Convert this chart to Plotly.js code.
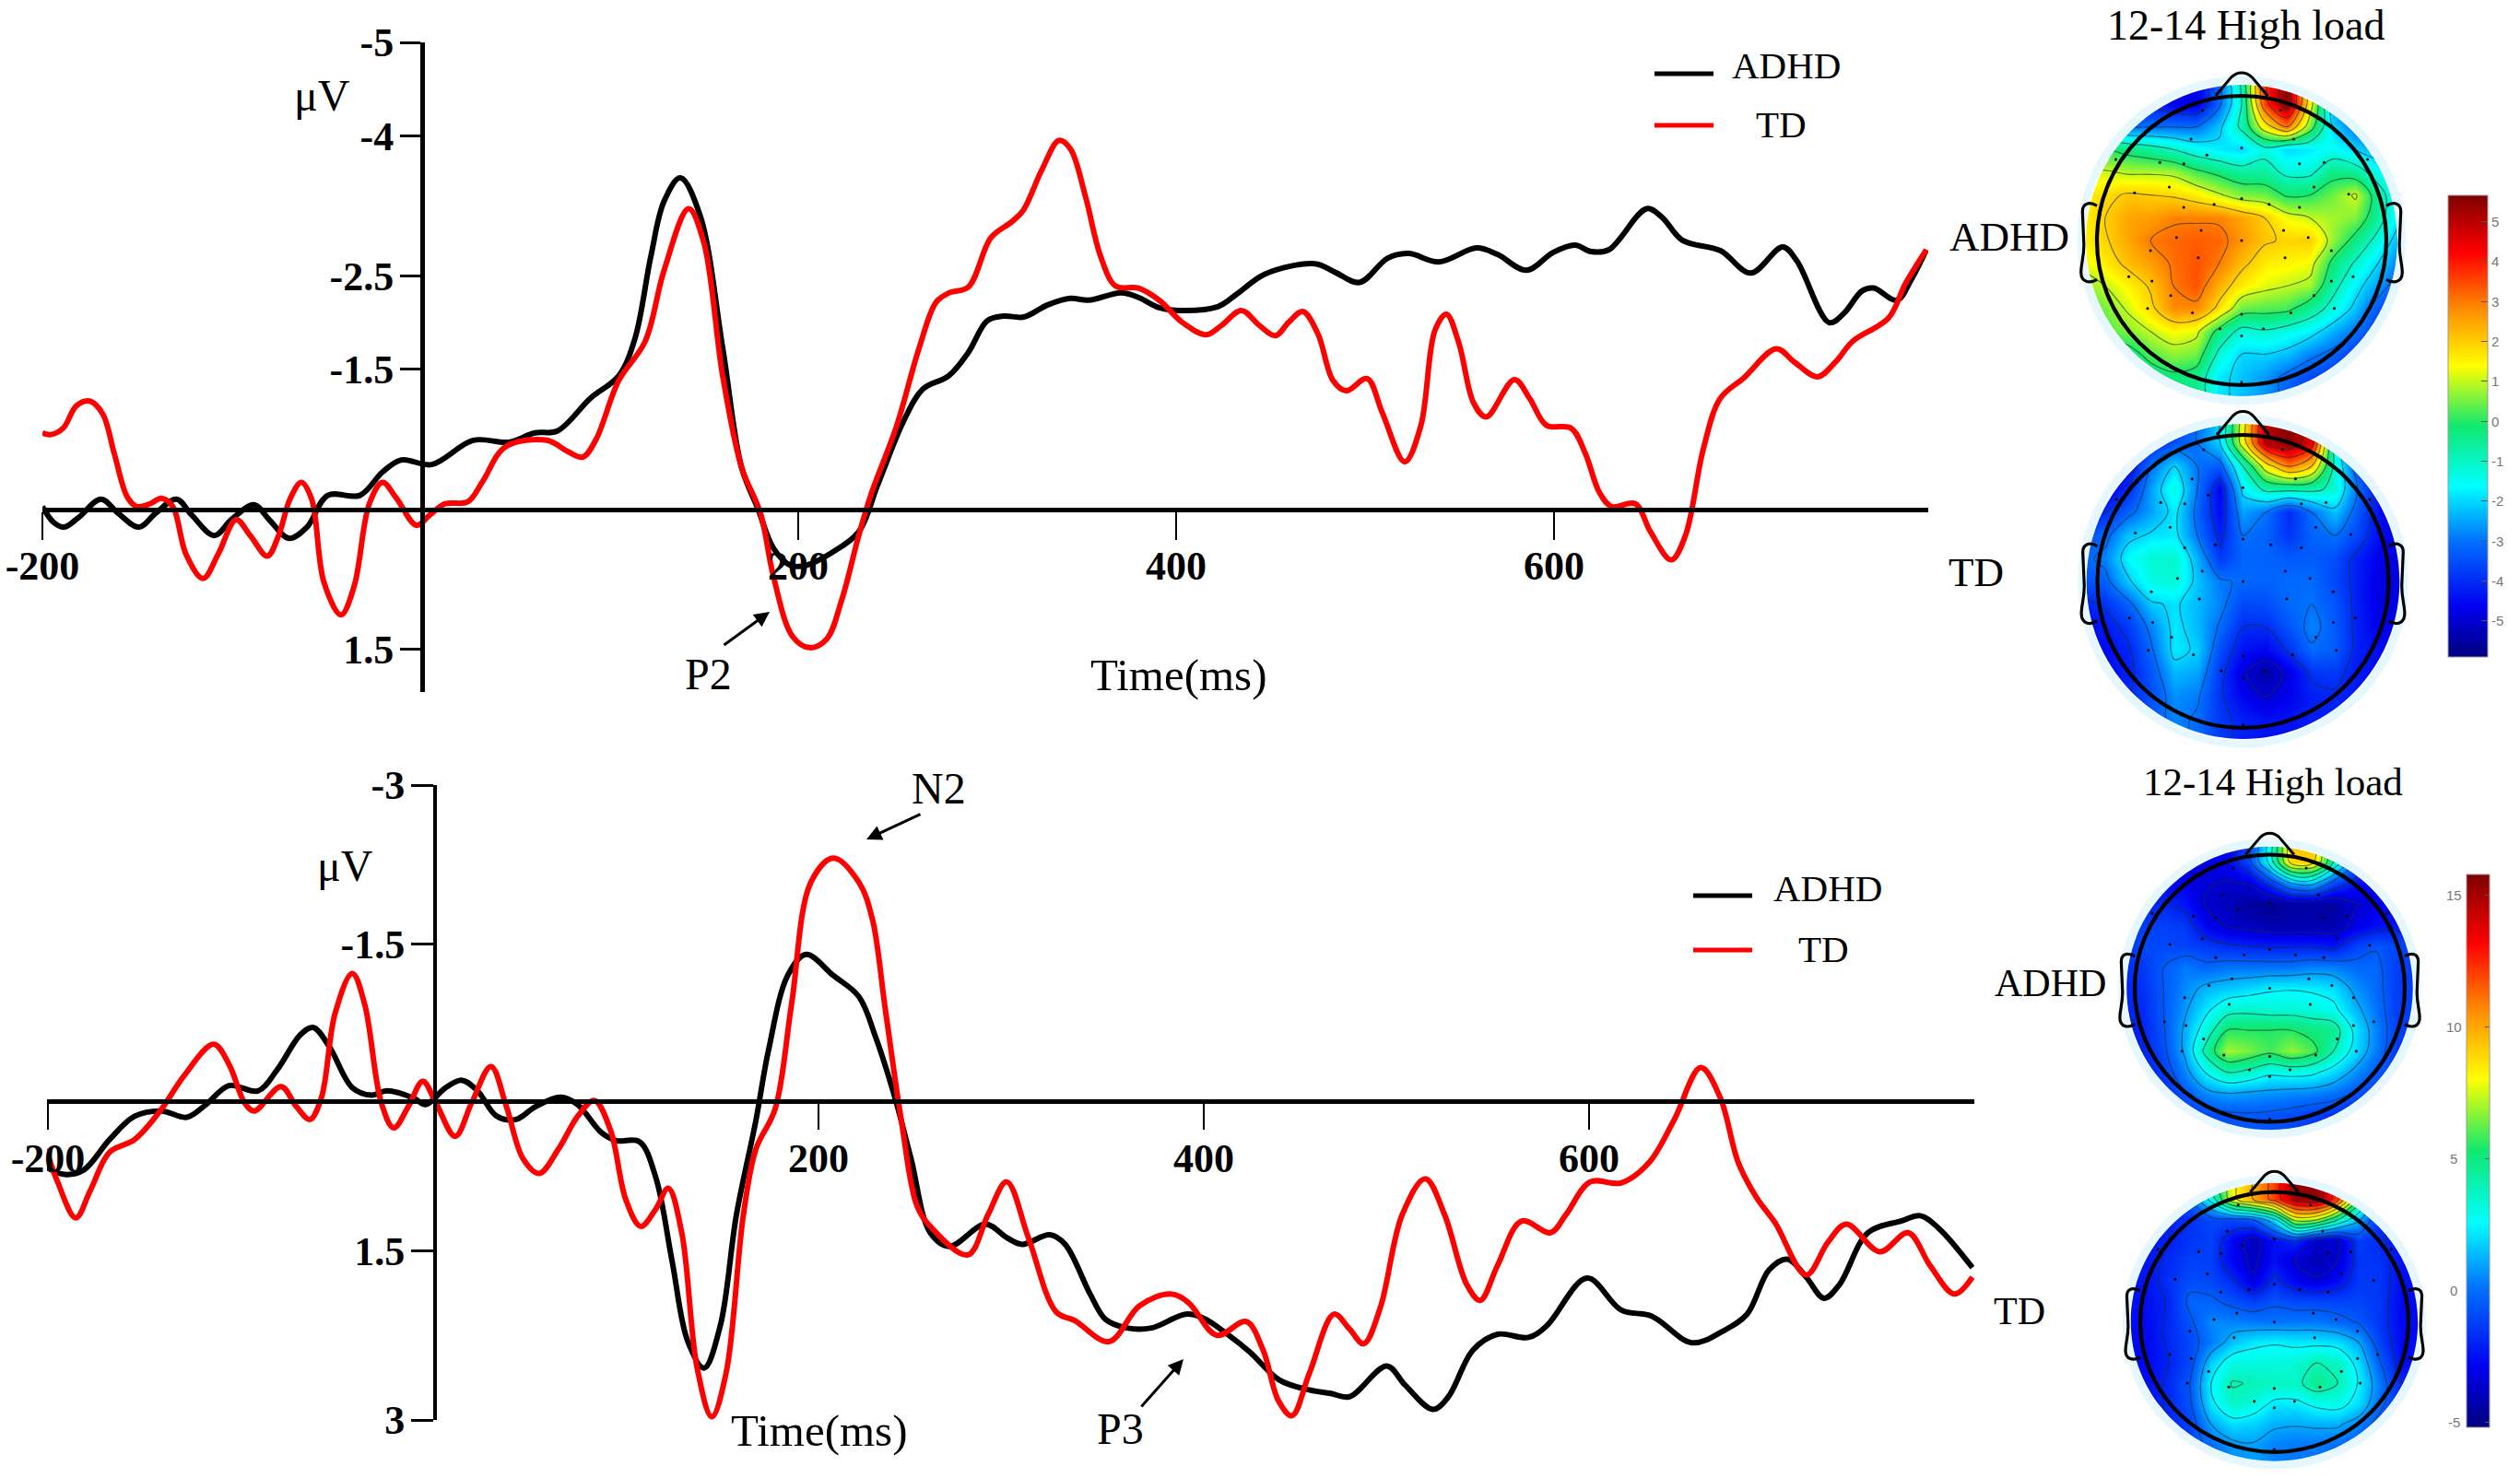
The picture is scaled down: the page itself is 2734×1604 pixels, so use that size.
<!DOCTYPE html>
<html>
<head>
<meta charset="utf-8">
<script src="https://cdn.plot.ly/plotly-3.0.1.min.js"></script>
<style>html,body{margin:0;padding:0;background:#fff}</style>
</head>
<body>
<div id="chart" style="width:2734px;height:1604px"></div>
<script>
// ---- ERP waveforms, upper panel (time in ms, amplitude in microvolts)
const p1AdhdT = [-200,-194,-188.5,-181,-169,-160,-149,-140,-129,-121,-109,-100,-88,-80,-69.5,-60,-49,-32,-20,-10,6,28,47,60.6,72.5,90,105,113.6,122,129,137.6,148,160,170,178.6,187,196,204,218,232,242,255.6,266,279.6,290,300,308.7,319.4,332,344,353.6,371,380,391,402,422,433,447,473.4,484,497,512,523,539,559,570,585.4,599.4,611,619.6,629,649,657,668,688,704,721,728.5,745.6,753.4,763,769,781.4,789,797];
const p1AdhdV = [-.03,.14,.19,.09,-.11,.04,.19,.04,-.11,.06,.28,.11,-.05,.11,.31,.19,-.15,-.15,-.40,-.53,-.48,-.74,-.72,-.82,-.84,-1.19,-1.43,-1.83,-2.71,-3.30,-3.55,-3.15,-1.73,-.45,-.01,.42,.60,.60,.46,.24,-.26,-.94,-1.29,-1.43,-1.68,-2.02,-2.07,-2.06,-2.19,-2.26,-2.24,-2.32,-2.27,-2.16,-2.13,-2.17,-2.32,-2.52,-2.63,-2.54,-2.43,-2.69,-2.74,-2.65,-2.80,-2.73,-2.56,-2.75,-2.83,-2.76,-2.78,-3.22,-3.13,-2.88,-2.77,-2.53,-2.81,-2.66,-2.0,-2.10,-2.34,-2.37,-2.24,-2.46,-2.78];
const p1TdT = [-200,-196,-189,-182,-175,-168,-162,-155,-150,-143,-137,-131,-124,-115,-107,-97.5,-90,-81,-75,-69,-63,-57.5,-51,-42,-35,-27,-20,-13,-2,5,13,25,33,45,67,78,86,93,105,119,129,142,150,160,170,180,187,197,206,215,223,232,238.5,252,264,273,280,290,302,313,319,329,338,344,352,360,368,380,391,403.4,416,424,434.5,444,452.6,459.4,467,475,483,490,501,509,521,529.4,537,543,549.6,557.4,564,579,587,596,609,616.5,624,630.5,643,651,662,669.5,679,688,700.5,717.6,727,739.4,749,758,777,786,797];
const p1TdV = [-.82,-.80,-.87,-1.11,-1.16,-1.02,-.60,-.13,-.03,-.06,-.12,-.03,.48,.74,.48,.11,.28,.50,.28,-.11,-.29,-.11,.78,1.13,.82,-.06,-.29,-.13,.17,.06,-.06,-.08,-.30,-.67,-.74,-.62,-.56,-.75,-1.38,-1.80,-2.56,-3.22,-2.86,-1.43,-.45,.04,.73,1.36,1.48,1.39,.97,.28,-.16,-.89,-1.73,-2.22,-2.32,-2.38,-2.91,-3.08,-3.2,-3.64,-3.95,-3.86,-3.35,-2.71,-2.39,-2.37,-2.24,-2.0,-1.87,-1.97,-2.13,-1.97,-1.86,-2.0,-2.12,-1.88,-1.38,-1.27,-1.40,-1.04,-.51,-.89,-1.92,-2.09,-1.78,-1.14,-.99,-1.39,-1.19,-.90,-.87,-.60,-.18,-.03,-.06,.24,.54,.28,-.65,-1.19,-1.41,-1.72,-1.58,-1.42,-1.58,-1.80,-2.05,-2.42,-2.78];

// ---- ERP waveforms, lower panel
const p2AdhdT = [-201,-191.6,-181.6,-168,-155,-141,-128,-118,-106,-91,-81,-69,-62.4,-54,-42,-32,-24,-10,-4,6.4,15,23,33,43,53,66,75,87,95,107,115.4,124,132,140.6,149,157.4,167.5,174,184,193.6,207.7,221,229.6,239.6,248,258,268,286.6,298,305.8,320,328,341,349,360,373,390.7,400,413,424,439,453,466,475.6,495,504.5,519,527,539.7,552.5,568.5,578,599,616.6,632.6,653.4,669.5,682,693.5,703,712.7,722,730,744.8,762,772,781.6,799];
const p2AdhdV = [.61,.68,.64,.35,.13,.08,.14,.02,-.16,-.11,-.31,-.64,-.71,-.53,-.14,-.07,-.11,-.04,.02,-.14,-.21,-.11,.13,.16,.04,-.05,.02,.28,.36,.37,.70,1.50,2.25,2.51,2.11,1.06,.17,-.49,-1.20,-1.40,-1.20,-1.0,-.62,-.05,.53,1.23,1.36,1.15,1.28,1.34,1.25,1.34,1.81,2.05,2.13,2.13,2.0,2.04,2.20,2.36,2.62,2.71,2.75,2.78,2.49,2.67,2.90,2.78,2.34,2.19,2.22,2.11,1.66,1.96,2.02,2.27,2.16,2.0,1.58,1.48,1.65,1.85,1.72,1.23,1.12,1.07,1.19,1.56];
const p2TdT = [-201,-195,-185.6,-178,-168,-155,-141,-129.5,-114,-106,-98,-93,-79,-71,-64,-58,-51,-42,-35.6,-27,-20.5,-13,-5.4,1.3,11.4,20,30,38,46.6,55,65,75,83.6,92,100,107.7,115.4,122,129,137,144.6,152,161,167.5,177.5,186,196,207.7,221,228,234.6,243,251,258,277.5,288,297.7,309,323.4,333,350.7,366.7,382.7,392,406.7,422,430.8,438.8,445.8,454.8,467.6,475.6,483,491.6,503,515,525,536.5,543.5,552.5,565,580,588,600.6,616.6,631,644,658,668,677.5,687,696.7,712.7,724,733.5,751,765.6,777,789.6,799];
const p2TdV = [.44,.75,1.09,.83,.47,.35,.06,-.25,-.55,-.36,0,.08,-.15,.04,.16,-.05,-.84,-1.22,-.93,0,.24,.04,-.20,0,.32,0,-.34,.04,.53,.67,.44,.13,-.02,.26,.92,1.17,1.01,.81,1.23,2.51,2.97,2.56,1.06,.44,.06,-.93,-2.08,-2.31,-2.08,-1.73,-.89,.17,.97,1.17,1.44,1.06,.75,1.28,1.98,2.06,2.26,1.92,1.81,1.89,2.20,2.07,2.34,2.82,2.96,2.56,2.0,2.14,2.28,1.94,1.06,.72,1.06,1.72,1.87,1.54,1.12,1.23,1.06,.75,.76,.57,.17,-.33,-.05,.57,.90,1.14,1.63,1.32,1.15,1.41,1.23,1.54,1.81,1.65];

// ---- Axis ticks
const timeTicks = [-200,200,400,600];
const timeLabels = ['-200','200','400','600'];
const p1Ticks = [-5,-4,-2.5,-1.5,1.5];
const p1Labels = ['-5','-4','-2.5','-1.5','1.5'];
const p2Ticks = [-3,-1.5,1.4,3];
const p2Labels = ['-3','-1.5','1.5','3'];

// ---- Scalp maps: grid in head units (1 = scalp radius), rows front to back
const gridAxis = [-1.1,-.943,-.786,-.629,-.471,-.314,-.157,0,.157,.314,.471,.629,.786,.943,1.1];
const mapP2Adhd = [
[-4,-4,-4,-4.2,-4.6,-4.8,-3.2,-.8,3.8,5.6,1.2,-2.5,-3.5,-4,-4],
[-4,-4,-4.2,-4.2,-4.6,-4.8,-3.2,-1,3.6,5.6,1.5,-2.5,-3.5,-4,-4],
[-2.5,-2.5,-3,-3,-3,-3,-2.2,-.8,1.5,3,.5,-2,-3,-3.5,-3.5],
[-.5,0,-.3,-.6,-1,-1.5,-1.8,-2,-1.3,-2,-1.8,-1.5,-2,-2.5,-3],
[1,1.1,.9,.9,.8,.2,-.2,-.6,-.6,-1.2,-1.2,-.3,-.5,-1.5,-2.5],
[1.5,1.8,2.1,2,1.9,1.6,1.1,.6,.5,-.1,0,.5,1.1,-.5,-2],
[1.5,2,2.5,2.6,2.9,2.9,2.9,2.5,2,1.3,1,.8,.6,-.6,-2],
[1.5,1.9,2.5,3,3.2,3.3,3.2,2.7,2.1,1.9,2,.7,-.3,-1.3,-2.5],
[1.2,1.6,2.2,2.6,3.1,3.4,3,2.2,1.6,1.5,1.3,-.2,-1.1,-2,-3],
[.6,1,1.5,2.1,3,3.4,2.4,1.6,1.2,1,.8,-.7,-1.7,-2.6,-3.5],
[.2,.5,1.1,1.8,2.8,2.8,1.8,.4,.3,.2,-.5,-1.3,-2.2,-3.4,-4],
[0,.2,.6,1,1.4,1.2,-.3,-1.3,-1.1,-1.4,-1.7,-2.4,-3,-3.8,-4],
[-.5,-.5,-.4,.3,.7,.5,-1.2,-2,-2,-2.2,-2.8,-3.2,-3.8,-4,-4],
[-1,-1,-.8,-.5,-.2,-.4,-1.8,-2.2,-2.6,-3.2,-3.6,-3.8,-4,-4,-4],
[-1,-1,-.8,-.5,-.2,-.4,-1.8,-2.2,-2.6,-3.2,-3.6,-3.8,-4,-4,-4]];
const mapP2Td = [
[-4.5,-4.5,-4.5,-4,-3.5,-3,-2,1.5,5,5.6,4.5,-1.5,-4,-4.5,-4.5],
[-4.5,-4.5,-4.5,-4,-3.5,-3,-2,1.5,5,5.6,4.5,-1.5,-4,-4.5,-4.5],
[-4.5,-4.5,-4.5,-3,-2,-3,-3.3,-1,1.5,3,2,-1.2,-3.5,-4.5,-4.5],
[-4.8,-4.8,-4,-2.5,-1.3,-3,-4.6,-1.8,-.8,-.8,-.8,-1.2,-3,-4.5,-4.8],
[-4.2,-4,-3.2,-2.5,-1.8,-3.2,-4.5,-2.5,-3,-4,-3,-2.2,-3.3,-4.5,-4.8],
[-3.5,-3.2,-2.2,-1.9,-1.8,-3,-4.2,-3,-3.2,-3.9,-3.2,-3,-3.6,-4.5,-4.8],
[-3.2,-2.8,-1.6,-1.2,-1.1,-2.4,-3.8,-3.2,-3.2,-3.3,-3.3,-3.5,-4.2,-4.7,-4.8],
[-3.5,-3.2,-2.1,-1.3,-1.2,-2.2,-2.9,-3.1,-3.2,-3.1,-3.1,-3.6,-4.2,-4.8,-4.8],
[-4.2,-3.9,-3.2,-2.1,-1.9,-2.3,-2.8,-3.6,-3.5,-3.1,-3,-3.4,-4.2,-4.8,-4.8],
[-4.5,-4.3,-3.8,-2.8,-1.8,-2.3,-3.1,-4,-4,-3.4,-2.8,-3.3,-4.2,-4.7,-4.7],
[-4.5,-4.5,-4.1,-3.1,-1.8,-2.1,-3.5,-4.4,-4.6,-3.9,-3.1,-3.3,-4.2,-4.5,-4.5],
[-4.5,-4.5,-4.2,-3.4,-2.3,-2.5,-3.8,-4.9,-5.5,-4.8,-3.9,-3.8,-4.3,-4.5,-4.5],
[-4.2,-4.2,-4,-3.5,-2.7,-2.9,-3.9,-4.6,-5,-4.6,-4.2,-4.1,-4.3,-4.5,-4.5],
[-4,-4,-3.8,-3.3,-2.8,-3.1,-3.8,-4.2,-4.4,-4.4,-4.2,-4.2,-4.3,-4.5,-4.5],
[-4,-4,-3.8,-3.3,-2.8,-3.1,-3.8,-4.2,-4.4,-4.4,-4.2,-4.2,-4.3,-4.5,-4.5]];
const mapP3Adhd = [
[-3,-3,-3,-3,-3.2,-2.8,-1,3,9.5,9.5,4,-.5,-2.5,-2.5,-2.5],
[-3,-3,-3,-3,-3.2,-2.8,-1,3,9,9,4,-.5,-2.5,-2.5,-2.5],
[-2.8,-2.8,-2.8,-3,-3.4,-3.6,-3.4,-1.5,1,1.5,-1,-2.4,-3,-3,-3],
[-2,-2,-1.8,-2.4,-3.6,-4,-4.6,-4.9,-4.4,-4.5,-4.6,-3.6,-3,-2.7,-2.7],
[-1.5,-1.3,-1.2,-1.4,-2.9,-3.6,-3.9,-4.2,-4.2,-4.2,-4.2,-3.2,-2.6,-2.3,-2.3],
[-1.5,-1,-1,-1.1,-1.4,-1.8,-2,-2.1,-2.1,-2.1,-2.4,-1.2,-.6,-1.1,-1.1],
[-1.8,-1.4,-.5,.2,-.2,.1,.1,.1,.1,.4,.3,-.1,-.2,-1.3,-1.3],
[-2,-1.6,-.5,.5,1.3,1.6,1.9,2.3,2.4,2.3,2,.7,-.1,-1.3,-1.3],
[-2,-1.8,-.5,.8,2.2,3.4,3.6,3.4,3.4,3.2,2.8,1.4,.1,-1.3,-1.3],
[-2.2,-2,-.6,1.2,3.2,5.5,5.5,5.5,5.5,5,4.8,2.2,.4,-1.3,-1.3],
[-2.4,-2,-.8,1.2,4.5,7,6.5,5.8,6.8,6,4,2,.3,-1.5,-1.5],
[-2.4,-2.2,-1.3,.5,2.6,4,3.6,2.8,3,2.8,1.9,.7,-.5,-1.5,-1.5],
[-2.4,-2.2,-1.8,-.6,.6,1,.8,.7,.5,.4,.1,-.6,-1.5,-2,-2],
[-2.5,-2.5,-2,-1.6,-1,-.7,-.6,-.7,-.9,-1.3,-1.6,-2.3,-2.5,-2.5,-2.5],
[-2.5,-2.5,-2,-1.6,-1,-.7,-.6,-.7,-.9,-1.3,-1.6,-2.3,-2.5,-2.5,-2.5]];
const mapP3Td = [
[-2,-2,-1.8,0,4,8,10,12,15.5,15.5,12,5,-1,-2,-2],
[-2,-2,-1.8,-.5,3,8,10,12,15,15.5,12,5,-1.2,-2,-2],
[-2.2,-2.2,-2,-1.6,-1,-1,-.5,2,7.5,7,4,1.2,-1.8,-2.5,-2.5],
[-2.4,-2.4,-2,-1.5,-1.2,-2.8,-4,-2.5,-1.8,-3.6,-3.6,-1.3,-1.8,-2.6,-2.6],
[-2.3,-2.3,-1.8,-1.2,-1.3,-2.8,-3.8,-2.5,-3.5,-4.2,-3.5,-1.5,-1.6,-2.5,-2.5],
[-2.4,-2.4,-1.6,-.9,-1,-1.8,-3.3,-1.7,-2.8,-3.3,-2.6,-1.4,-1.5,-2.5,-2.5],
[-2.5,-2.5,-1.9,-.2,-.3,-.8,-1.2,-.7,-1,-1,-1.1,-1.1,-1.5,-2.7,-2.7],
[-2.6,-2.6,-1.8,-.7,.5,.4,.2,.1,.2,.2,-.1,-.6,-1.5,-2.7,-2.7],
[-2.7,-2.7,-1.8,-1,.2,1.5,2.2,2.4,2.2,2.2,2,1,-1.2,-2.7,-2.7],
[-2.7,-2.7,-2,-1,1.8,3.2,3.2,3.2,3.4,4,3.8,2,-.4,-2.6,-2.6],
[-2.7,-2.5,-1.8,-.5,2.5,4.1,3.9,3.8,3.6,4.8,4,2.4,.2,-2,-2],
[-2.5,-2.5,-1.8,-.7,2.2,3.6,3.2,2.2,2.2,2.8,3,2,-.1,-1.8,-1.8],
[-2.5,-2.5,-2,-1.2,1,2,1.8,1.2,1.1,1.2,1.2,.4,-1,-2,-2],
[-2.5,-2.5,-2,-1.2,0,.7,.9,.4,.2,.2,0,-.5,-1.5,-2,-2],
[-2.5,-2.5,-2,-1.2,0,.7,.9,.4,.2,.2,0,-.5,-1.5,-2,-2]];
const electrodeX = [-.27,.27,-.35,.36,-.24,0,.40,.57,-.565,-.40,-.87,.87,-.50,.50,-.74,-.19,-.40,0,.19,.40,.74,-.45,-.28,-.63,-.30,0,.29,.46,.30,.62,-.78,-.62,-.49,-.65,-.34,.50,.62,.77,.64,.34,0,-.15,.15,0,0];
const electrodeY = [-.90,-.90,-.70,-.70,-.59,-.64,-.53,-.54,-.54,-.53,-.56,-.56,-.37,-.37,-.33,-.25,-.23,-.29,-.25,-.23,-.32,-.02,-.07,.07,.12,0,-.07,-.02,.12,.07,.25,.28,.38,.47,.50,.38,.28,.25,.47,.50,.51,.61,.61,.66,.98];
const scaleTop = [5,4,3,2,1,0,-1,-2,-3,-4,-5];
const scaleBottom = [15,10,5,0,-5];

// ---- Page geometry helpers
const W = 2734, H = 1604;
const fx = p => p / W, fy = p => 1 - p / H;
const font = 'Liberation Serif';
const jet = [[0,'#00007f'],[.11,'#0000f0'],[.25,'#0070ff'],[.37,'#00ffff'],[.5,'#10e870'],[.63,'#ffff00'],[.75,'#ff9000'],[.875,'#ff0000'],[1,'#7f0000']];

function erp(x, y, color, xa, ya, name) {
  return {type:'scatter', mode:'lines', x, y, name, xaxis:xa, yaxis:ya, showlegend:false, hoverinfo:'skip',
    line:{color, width:6, shape:'spline', smoothing:1}};
}
const traces = [
  erp(p1AdhdT, p1AdhdV, '#000000', 'x', 'y', 'ADHD'),
  erp(p1TdT, p1TdV, '#ff0000', 'x', 'y', 'TD'),
  erp(p2AdhdT, p2AdhdV, '#000000', 'x2', 'y2', 'ADHD'),
  erp(p2TdT, p2TdV, '#ff0000', 'x2', 'y2', 'TD')
];

function erpAxes(xId, yId, g) {
  return {
    ['xaxis' + xId]: {domain:[fx(g.x0), fx(g.x1)], range:g.xr, anchor:'free', position:fy(g.zero),
      tickmode:'array', tickvals:timeTicks, ticktext:timeLabels, ticks:'outside', ticklen:g.xtl, tickwidth:1.6, tickcolor:'#000',
      showline:true, linewidth:4.5, linecolor:'#000', showgrid:false, zeroline:false,
      tickfont:{family:font, size:44, color:'#000', weight:'bold'}, ticklabelstandoff:g.xso},
    ['yaxis' + yId]: {domain:[fy(g.y1), fy(g.y0)], range:g.yr, anchor:'free', position:fx(g.ax),
      tickmode:'array', tickvals:g.yt, ticktext:g.yl, ticks:'outside', ticklen:g.ytl, tickwidth:3, tickcolor:'#000',
      showline:true, linewidth:g.ylw, linecolor:'#000', showgrid:false, zeroline:false,
      tickfont:{family:font, size:44, color:'#000', weight:'bold'}, ticklabelstandoff:-2}
  };
}

const layout = Object.assign({
  width:W, height:H, autosize:false, margin:{l:0,r:0,t:0,b:0}, paper_bgcolor:'#fff', plot_bgcolor:'rgba(0,0,0,0)',
  showlegend:false, shapes:[], annotations:[]
},
 erpAxes('', '', {x0:46, x1:2092, xr:[-200,798], zero:553, xtl:30, xso:-9, y0:46, y1:751, yr:[1.955,-5], ax:458, yt:p1Ticks, yl:p1Labels, ytl:22, ylw:4.5}),
 erpAxes('2', '2', {x0:51, x1:2142, xr:[-200.5,800], zero:1195, xtl:28, xso:-6, y0:852, y1:1541, yr:[3,-3], ax:471, yt:p2Ticks, yl:p2Labels, ytl:24, ylw:3.5})
);

// Scalp maps
const maps = [
  {z:mapP2Adhd, cx:2432,   cy:261,    rx:157,   ry:157,   rc:1.076, lo:-5.9, hi:5.66, size:1,   start:-5, end:5},
  {z:mapP2Td,   cx:2433.5, cy:631,    rx:158,   ry:159,   rc:1.075, lo:-5.9, hi:5.66, size:1,   start:-5, end:5},
  {z:mapP3Adhd, cx:2462.5, cy:1072.5, rx:146.5, ry:145,   rc:1.06,  lo:-5.2, hi:15.8, size:1.5, start:-5, end:15},
  {z:mapP3Td,   cx:2467.5, cy:1436.5, rx:145.5, ry:142.5, rc:1.07,  lo:-5.2, hi:15.8, size:1.5, start:-5, end:15}
];
const half = 1.2;
maps.forEach((m, i) => {
  const n = i + 3, xa = 'x' + n, ya = 'y' + n;
  layout['xaxis' + n] = {domain:[fx(m.cx - half * m.rx), fx(m.cx + half * m.rx)], range:[-half, half], visible:false, anchor:ya};
  layout['yaxis' + n] = {domain:[fy(m.cy + half * m.ry), fy(m.cy - half * m.ry)], range:[half, -half], visible:false, anchor:xa};
  const heat = {type:'heatmap', x:gridAxis, y:gridAxis, z:m.z, xaxis:xa, yaxis:ya, zmin:m.lo, zmax:m.hi, zsmooth:'best',
    colorscale:jet, showscale:false, hoverinfo:'skip'};
  if (i === 0) {
    heat.showscale = true;
    heat.colorbar = {x:fx(2656), xanchor:'left', y:fy(212), yanchor:'top', len:501, lenmode:'pixels', thickness:43, thicknessmode:'pixels',
      xpad:0, ypad:0, outlinewidth:1, outlinecolor:'#999', ticks:'inside', ticklen:7, tickcolor:'#555', tickmode:'array',
      tickvals:scaleTop, ticktext:scaleTop.map(String), tickfont:{family:'Liberation Sans', size:15, color:'#777'}};
  }
  if (i === 2) {
    heat.showscale = true;
    heat.colorbar = {x:fx(2676), xanchor:'left', y:fy(949), yanchor:'top', len:600, lenmode:'pixels', thickness:25, thicknessmode:'pixels',
      xpad:0, ypad:0, outlinewidth:1, outlinecolor:'#999', ticks:'inside', ticklen:5, tickcolor:'#555', tickmode:'array',
      tickvals:scaleBottom, showticklabels:false};
  }
  traces.push(heat);
  traces.push({type:'contour', x:gridAxis, y:gridAxis, z:m.z, xaxis:xa, yaxis:ya, showscale:false, hoverinfo:'skip',
    contours:{coloring:'none', start:m.start, end:m.end, size:m.size}, line:{color:'rgba(25,45,45,.6)', width:1.2, smoothing:1}});
  traces.push({type:'scatter', mode:'markers', x:electrodeX, y:electrodeY, xaxis:xa, yaxis:ya, showlegend:false, hoverinfo:'skip',
    marker:{color:'#000', size:3}});
  const r = m.rc, k = r * .5523, ref = {xref:xa, yref:ya, layer:'above'};
  // white mask outside the coloured disc
  layout.shapes.push(Object.assign({type:'path', fillrule:'evenodd', fillcolor:'#fff', line:{width:0},
    path:`M${-half},${-half} L${half},${-half} L${half},${half} L${-half},${half} Z M${r},0 C${r},${k} ${k},${r} 0,${r} C${-k},${r} ${-r},${k} ${-r},0 C${-r},${-k} ${-k},${-r} 0,${-r} C${k},${-r} ${r},${-k} ${r},0 Z`}, ref));
  // faint rim
  const rr = r + .035;
  layout.shapes.push(Object.assign({type:'circle', x0:-rr, x1:rr, y0:-rr, y1:rr, line:{color:'#e6f8ff', width:8}}, ref));
  // head outline
  layout.shapes.push(Object.assign({type:'circle', x0:-1, x1:1, y0:-1, y1:1, line:{color:'#000', width:4.2}}, ref));
  layout.shapes.push(Object.assign({type:'path', line:{color:'#000', width:3},
    path:'M-.18,-1 L-.07,-1.13 C-.03,-1.17 .03,-1.17 .07,-1.13 L.18,-1'}, ref));
  [-1, 1].forEach(s => layout.shapes.push(Object.assign({type:'path', line:{color:'#000', width:3.2},
    path:`M${s},-.24 C${s*1.05},-.27 ${s*1.1},-.26 ${s*1.1},-.2 L${s*1.09},.03 C${s*1.09},.12 ${s*1.11},.16 ${s*1.11},.22 C${s*1.11},.29 ${s*1.05},.3 ${s},.27`}, ref)));
});

// Text
function label(text, x, y, size, extra) {
  layout.annotations.push(Object.assign({text, xref:'paper', yref:'paper', x:fx(x), y:fy(y), showarrow:false, xanchor:'center', yanchor:'middle',
    font:{family:font, size, color:'#000'}}, extra || {}));
}
function arrow(hx, hy, tx, ty) {
  layout.annotations.push({text:'', xref:'paper', yref:'paper', x:fx(hx), y:fy(hy), ax:tx - hx, ay:ty - hy, axref:'pixel', ayref:'pixel',
    showarrow:true, arrowhead:2, arrowsize:1.1, arrowwidth:3, arrowcolor:'#000', standoff:0});
}
function key(color, x0, x1, y) {
  layout.shapes.push({type:'line', xref:'paper', yref:'paper', x0:fx(x0), x1:fx(x1), y0:fy(y), y1:fy(y), line:{color, width:5}});
}
label('μV', 349, 104, 48);
label('μV', 374, 939, 48);
label('P2', 768, 731, 48);
label('P3', 1215, 1550, 48);
label('N2', 1018, 855, 48);
label('Time(ms)', 1279, 732, 49);
label('Time(ms)', 889, 1552, 49);
arrow(835, 664, 784, 701);
arrow(1284, 1475, 1237, 1528);
arrow(940, 911, 1000, 883);
key('#000', 1795, 1859, 80); key('#f00', 1795, 1859, 136);
label('ADHD', 1938, 71, 41); label('TD', 1933, 135, 41);
key('#000', 1837, 1901, 972); key('#f00', 1837, 1901, 1031);
label('ADHD', 1983, 964, 41); label('TD', 1978, 1030, 41);
label('12-14 High load', 2437, 27, 46);
label('12-14 High load', 2466, 848, 43);
label('ADHD', 2180, 257, 45); label('TD', 2144, 621, 45);
label('ADHD', 2224, 1067, 42); label('TD', 2191, 1423, 42);
scaleBottom.forEach(v => label(String(v), 2662, 949 + (15.8 - v) * 28.6, 15, {font:{family:'Liberation Sans', size:15, color:'#777'}}));

Plotly.newPlot('chart', traces, layout, {displayModeBar:false, staticPlot:true});
</script>
</body>
</html>
